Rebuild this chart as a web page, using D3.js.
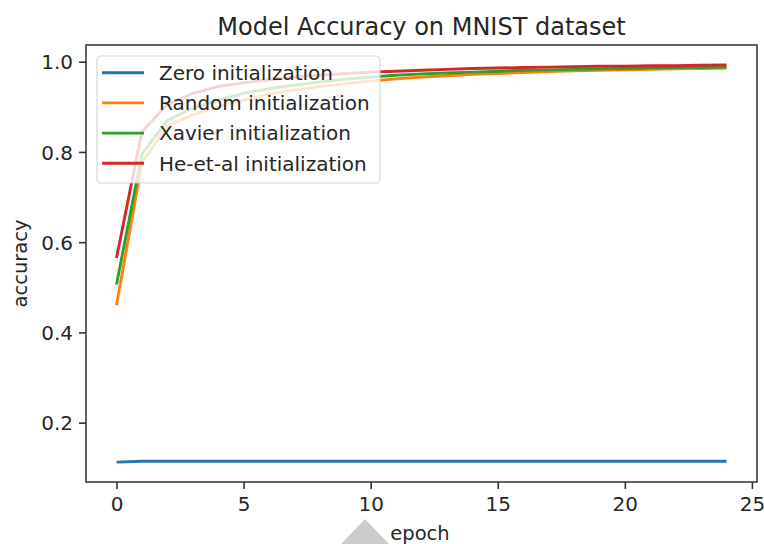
<!DOCTYPE html>
<html>
<head>
<meta charset="utf-8">
<script src="https://cdn.jsdelivr.net/npm/d3@7"></script>
<style>
  body { margin: 0; background: #fff; }
  text { font-family: "DejaVu Sans", sans-serif; fill: #262626; }
</style>
</head>
<body>
<svg></svg>
<script>
// Chart data
const epochs = d3.range(0, 25);
const seriesNames = ['Zero initialization', 'Random initialization', 'Xavier initialization', 'He-et-al initialization'];
const seriesColors = ['#1f77b4', '#ff7f0e', '#2ca02c', '#d62728'];
const zeroAcc = [0.1125, 0.1145, 0.1145, 0.1145, 0.1145, 0.1145, 0.1145, 0.1145, 0.1145, 0.1145,
    0.1145, 0.1145, 0.1145, 0.1145, 0.1145, 0.1145, 0.1145, 0.1145, 0.1145, 0.1145,
    0.1145, 0.1145, 0.1145, 0.1145, 0.1145];
const randomAcc = [0.460, 0.776, 0.858, 0.882, 0.900, 0.915, 0.928, 0.937, 0.945, 0.951,
    0.957, 0.962, 0.966, 0.969, 0.972, 0.974, 0.976, 0.978, 0.980, 0.981,
    0.982, 0.983, 0.984, 0.985, 0.986];
const xavierAcc = [0.506, 0.795, 0.870, 0.897, 0.915, 0.930, 0.940, 0.948, 0.955, 0.961,
    0.966, 0.970, 0.973, 0.975, 0.977, 0.979, 0.981, 0.982, 0.983, 0.984,
    0.985, 0.986, 0.987, 0.987, 0.988];
const heAcc = [0.565, 0.845, 0.905, 0.930, 0.945, 0.953, 0.960, 0.966, 0.970, 0.974,
    0.977, 0.979, 0.981, 0.983, 0.985, 0.986, 0.987, 0.988, 0.989, 0.990,
    0.990, 0.991, 0.991, 0.992, 0.993];
const xTicks = [0, 5, 10, 15, 20, 25];
const yTicks = [0.2, 0.4, 0.6, 0.8, 1.0];

const allSeries = [zeroAcc, randomAcc, xavierAcc, heAcc];

const width = 764, height = 544;
const svg = d3.select('svg')
    .attr('width', width)
    .attr('height', height)
    .style('display', 'block');

// plot area, matplotlib style
const plot = { left: 86, right: 757, top: 45, bottom: 482 };

// 5% margins like matplotlib autoscale
const xExt = d3.extent(epochs);
const xPad = (xExt[1] - xExt[0]) * 0.05;
const yExt = d3.extent(allSeries.flat());
const yPad = (yExt[1] - yExt[0]) * 0.05;

const x = d3.scaleLinear().domain([xExt[0] - xPad, xExt[1] + xPad]).range([plot.left, plot.right]);
const y = d3.scaleLinear().domain([yExt[0] - yPad, yExt[1] + yPad]).range([plot.bottom, plot.top]);

// lines
const line = d3.line()
    .x((d, i) => x(epochs[i]))
    .y(d => y(d));

svg.append('g')
    .selectAll('path')
    .data(allSeries)
    .enter().append('path')
    .attr('d', line)
    .attr('fill', 'none')
    .attr('stroke', (d, i) => seriesColors[i])
    .attr('stroke-width', 2.9)
    .attr('stroke-linejoin', 'round')
    .attr('stroke-linecap', 'butt');

// axes
const xAxis = svg.append('g')
    .attr('transform', `translate(0,${plot.bottom})`)
    .call(d3.axisBottom(x).tickValues(xTicks).tickFormat(d3.format('d')).tickSizeOuter(0).tickSize(7).tickPadding(4));
const yAxis = svg.append('g')
    .attr('transform', `translate(${plot.left},0)`)
    .call(d3.axisLeft(y).tickValues(yTicks).tickFormat(d3.format('.1f')).tickSizeOuter(0).tickSize(7).tickPadding(6));

[xAxis, yAxis].forEach(a => {
    a.select('.domain').remove();
    a.selectAll('.tick line').attr('stroke', '#333').attr('stroke-width', 1.6);
    a.selectAll('.tick text')
        .style('font-family', '"DejaVu Sans", sans-serif')
        .style('font-size', '20px')
        .attr('fill', '#262626');
});
yAxis.selectAll('.tick text').attr('dy', '0.36em');
xAxis.selectAll('.tick text').attr('dy', '0.88em');

// frame
svg.append('rect')
    .attr('x', plot.left)
    .attr('y', plot.top)
    .attr('width', plot.right - plot.left)
    .attr('height', plot.bottom - plot.top)
    .attr('fill', 'none')
    .attr('stroke', '#333')
    .attr('stroke-width', 1.5);

// title and labels
svg.append('text')
    .attr('x', (plot.left + plot.right) / 2)
    .attr('y', 35)
    .attr('text-anchor', 'middle')
    .style('font-size', '24px')
    .text('Model Accuracy on MNIST dataset');

svg.append('text')
    .attr('transform', `translate(27,${(plot.top + plot.bottom) / 2}) rotate(-90)`)
    .attr('text-anchor', 'middle')
    .style('font-size', '19.5px')
    .text('accuracy');

// gray triangle overlay seen under the x label
svg.append('path')
    .attr('d', `M365,519 L391,546 L339,546 Z`)
    .attr('fill', '#cccccc');

svg.append('text')
    .attr('x', 420)
    .attr('y', 540)
    .attr('text-anchor', 'middle')
    .style('font-size', '19.5px')
    .text('epoch');

// legend
const legend = svg.append('g').attr('transform', 'translate(97,56)');
legend.append('rect')
    .attr('x', 0)
    .attr('y', 0)
    .attr('rx', 4)
    .attr('width', 283)
    .attr('height', 127)
    .attr('fill', 'white')
    .attr('fill-opacity', 0.8)
    .attr('stroke', '#cccccc')
    .attr('stroke-opacity', 0.8)
    .attr('stroke-width', 1.2);

seriesNames.forEach((name, i) => {
    const cy = 16.7 + i * 30.2;
    legend.append('line')
        .attr('x1', 5)
        .attr('x2', 47)
        .attr('y1', cy)
        .attr('y2', cy)
        .attr('stroke', seriesColors[i])
        .attr('stroke-width', 2.9);
    legend.append('text')
        .attr('x', 62)
        .attr('y', cy)
        .attr('dy', '0.36em')
        .style('font-size', '20px')
        .text(name);
});
</script>
</body>
</html>
